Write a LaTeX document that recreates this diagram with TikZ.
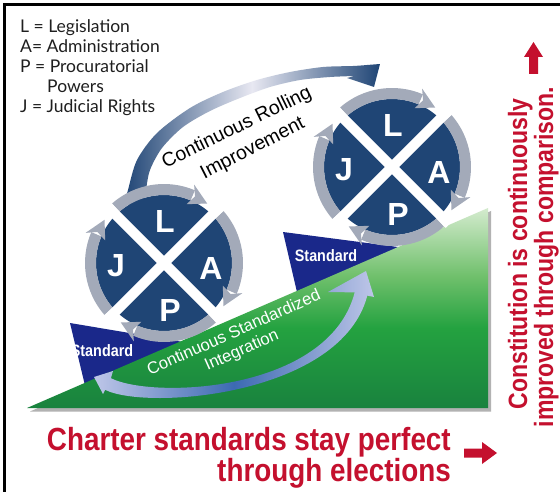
\documentclass[tikz,border=0pt]{standalone}
\usepackage{fontspec}
\setmainfont{Liberation Sans}
\newfontfamily\legfont{Lato}
\usepackage{graphicx}
\definecolor{wnavy}{RGB}{31,69,117}
\definecolor{wgray}{RGB}{163,170,185}
\definecolor{fnavy}{RGB}{26,40,138}
\definecolor{cred}{RGB}{196,16,46}
\definecolor{gdark}{RGB}{25,130,62}
\definecolor{gmid}{RGB}{36,162,64}
\definecolor{glight}{RGB}{112,192,108}
\definecolor{gpale}{RGB}{212,235,206}
\definecolor{bandlight}{RGB}{190,198,232}
\definecolor{bandmid}{RGB}{60,106,178}
\definecolor{toplight}{RGB}{232,232,242}
\pgfdeclareverticalshading{wedgeshade}{100bp}{color(0bp)=(gdark); color(25bp)=(gdark); color(45bp)=(gmid); color(58bp)=(glight); color(75bp)=(gpale); color(100bp)=(gpale)}
\newcommand\condtxt[1]{\scalebox{0.87}[1]{#1}}
\newcommand\lapjwheel[3]{%
  \begin{scope}[shift={(#1,#2)}]
    \fill[wnavy] (0,0) circle[radius=68];
    \foreach \t in {45,135,225,315}{%
      \fill[wgray] ({\t+4}:79) arc[start angle={\t+4}, end angle={\t+68}, radius=79]
        -- ({\t+68}:68) arc[start angle={\t+68}, end angle={\t+4}, radius=68] -- cycle;
      \fill[wgray] ({\t+66}:84) -- ({\t+81}:73.5) -- ({\t+66}:63) -- ({\t+70}:73.5) -- cycle;
    }
    \draw[white, line width=10pt] (45:81) -- (225:81) (135:81) -- (315:81);
    \node[wletter] (#3L) at (1,-42) {L};
    \node[wletter] (#3J) at (-48,3) {J};
    \node[wletter] (#3A) at (47,5) {A};
    \node[wletter] (#3P) at (6,47) {P};
  \end{scope}}
\begin{document}
\begin{tikzpicture}[x=1pt,y=-1pt,
  legend/.style={anchor=base west, inner sep=0pt, text=black!88, font=\legfont\fontsize{17.5}{20}\selectfont},
  wletter/.style={text=white, inner sep=0pt, font=\bfseries\fontsize{32}{32}\selectfont},
  stdtext/.style={text=white, inner sep=0pt, anchor=base, font=\bfseries\fontsize{16.5}{18}\selectfont},
  redtext/.style={text=cred, inner sep=0pt, font=\bfseries\fontsize{32}{32}\selectfont},
  vtext/.style={text=cred, inner sep=0pt, rotate=90, anchor=base, font=\bfseries\fontsize{26.5}{28}\selectfont},
  arctext/.style={inner sep=0pt, font=\fontsize{19.5}{22}\selectfont}]
\useasboundingbox (0,0) rectangle (560,492);
\fill[white] (0,0) rectangle (560,492);
\draw[black, line width=3pt] (4.5,492) -- (4.5,4.5) -- (560,4.5);
% legend
\node[legend] (leg1) at (20,33) {L = Legislation};
\node[legend] (leg2) at (20,52.7) {A= Administration};
\node[legend] (leg3) at (20,72.7) {P = Procuratorial};
\node[legend] (leg4) at (47,92.7) {Powers};
\node[legend] (leg5) at (20,112.7) {J = Judicial Rights};
% flags
\fill[fnavy] (70,323) -- (183,342) -- (88,398) -- cycle;
\fill[fnavy] (283,232) -- (398,247) -- (300,305) -- cycle;
% wedge shadow and wedge
\fill[black!30] (30,411.5) -- (491,211) -- (491,411.5) -- cycle;
\shade[shading=wedgeshade] (27,408) -- (488,208) -- (488,408) -- cycle;
% bottom band
\shade[left color=bandlight, right color=bandlight, middle color=bandmid]
  (110.9,378.2) .. controls (152.9,399.2) and (328.7,392.4) .. (354.7,292.4)
  -- (328,292) -- (366,271) -- (374,297) -- (367.3,295.6)
  .. controls (341.3,395.6) and (147.1,410.8) .. (105.1,389.8)
  -- (103,394) -- (94,377) -- (113,371) -- cycle;
% Standard labels
\node[stdtext] (std1) at (102,356) {\condtxt{Standard}};
\node[stdtext] (std2) at (326,261) {\condtxt{Standard}};
% top band
\shade[left color=wnavy, right color=wnavy, middle color=toplight]
  plot[smooth] coordinates {(124,205) (128,190) (137,160) (157,133) (190,108) (223,92) (257,80) (290,72) (323,67) (353,66) (367,65)}
  -- (380,64) -- (374,87) -- (347,78) -- (355,76)
  -- plot[smooth] coordinates {(355,76) (330,77) (300,80) (270,87) (240,98) (210,111) (183,127) (162,148) (150,170) (146,190) (144,205)}
  -- cycle;
% wheels
\lapjwheel{164}{263}{lw}
\lapjwheel{392}{167}{rw}
% band texts
\node[arctext, rotate=26] (cri1) at (237,128) {Continuous Rolling};
\node[arctext, rotate=27] (cri2) at (253,149) {Improvement};
\node[inner sep=0pt, rotate=24, text=white, align=center, font=\fontsize{16.7}{19}\selectfont] (csi) at (238,342) {Continuous Standardized\\Integration};
% red texts
\node[redtext, anchor=base east] (ch1) at (451,450) {\condtxt{Charter standards stay perfect}};
\node[redtext, anchor=base east] (ch2) at (451,481) {\condtxt{through elections}};
\node[vtext] (cn1) at (527,254) {\condtxt{Constitution is continuously}};
\node[vtext] (cn2) at (553,257) {\condtxt{improved through comparison.}};
% red arrows
\fill[cred] (464,448.5) -- (482,448.5) -- (482,442) -- (497,453) -- (482,464) -- (482,457.5) -- (464,457.5) -- cycle;
\fill[cred] (529,74) -- (529,57) -- (524,57) -- (533.5,42) -- (543,57) -- (538,57) -- (538,74) -- cycle;
\end{tikzpicture}
\end{document}
